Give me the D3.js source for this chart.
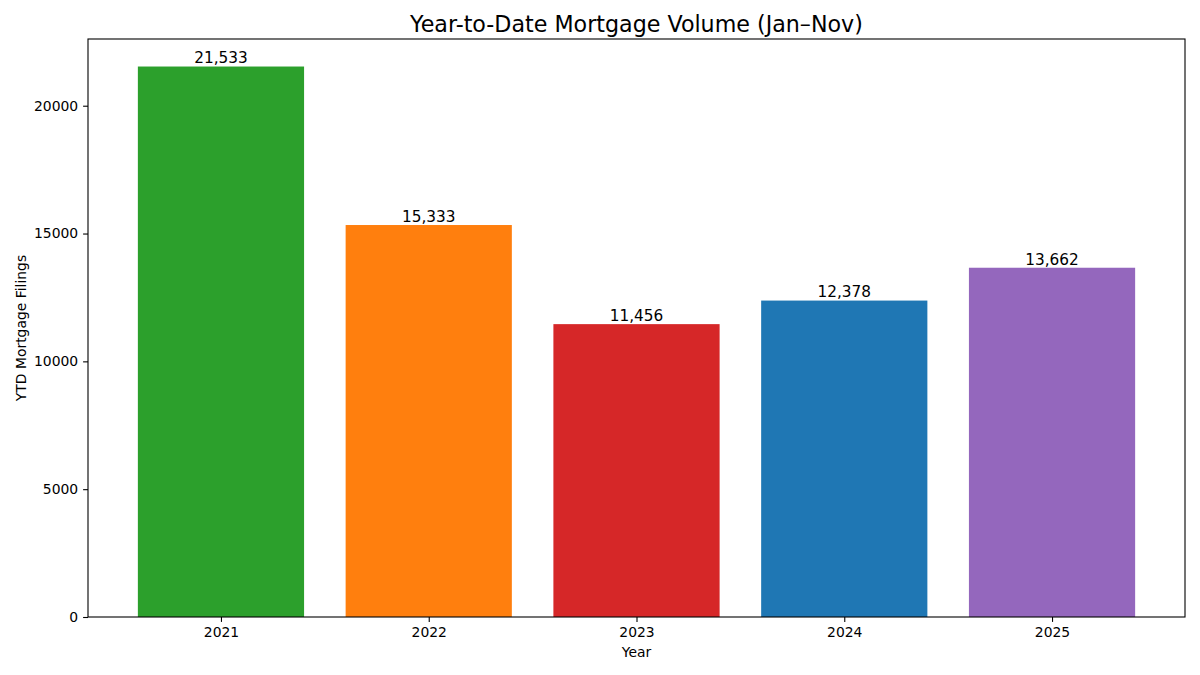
<!DOCTYPE html>
<html><head><meta charset="utf-8">
<script src="https://cdn.jsdelivr.net/npm/d3@7"></script>
<style>body{margin:0;background:#fff}svg{display:block;font-family:"DejaVu Sans",sans-serif}</style>
</head><body><svg id="c" width="1200" height="675"></svg>
<script>
const years = ["2021","2022","2023","2024","2025"];
const values = [21533, 15333, 11456, 12378, 13662];
const colors = ["#2ca02c","#ff7f0e","#d62728","#1f77b4","#9467bd"];
const yTicks = [0,5000,10000,15000,20000];

const svg = d3.select("#c");
const L=88, R=1185, T=39, B=617;
const x = d3.scaleLinear().domain([-0.64, years.length-1+0.64]).range([L,R]);
const y = d3.scaleLinear().domain([0, d3.max(values)*1.05]).range([B,T]);
const bw = x(0.8)-x(0);

svg.append("g").selectAll("rect").data(values).join("rect")
  .attr("x",(d,i)=>x(i)-bw/2).attr("width",bw)
  .attr("y",d=>y(d)).attr("height",d=>B-y(d))
  .attr("fill",(d,i)=>colors[i]);

svg.append("g").selectAll("text").data(values).join("text")
  .attr("x",(d,i)=>x(i)).attr("y",d=>y(d)-3.2)
  .attr("text-anchor","middle").attr("font-size","15.3px").attr("fill","#000")
  .text(d=>d3.format(",")(d));

const xa = d3.axisBottom(x).tickValues(d3.range(years.length)).tickFormat(i=>years[i]).tickSize(4.9).tickPadding(4.9);
const gx = svg.append("g").attr("transform",`translate(0,${B})`).call(xa);
const ya = d3.axisLeft(y).tickValues(yTicks).tickFormat(d3.format("d")).tickSize(4.9).tickPadding(4.9);
const gy = svg.append("g").attr("transform",`translate(${L},0)`).call(ya);
[gx,gy].forEach(g=>{
  g.select(".domain").remove();
  g.selectAll("text").attr("font-size","13.9px").attr("font-family","DejaVu Sans").attr("fill","#000");
  g.selectAll("line").attr("stroke","#000").attr("stroke-width",1.1);
});
svg.append("rect").attr("x",L).attr("y",T).attr("width",R-L).attr("height",B-T)
  .attr("fill","none").attr("stroke","#000").attr("stroke-width",1.1);

svg.append("text").attr("x",(L+R)/2).attr("y",32).attr("text-anchor","middle")
  .attr("font-size","22.2px").text("Year-to-Date Mortgage Volume (Jan–Nov)");
svg.append("text").attr("x",(L+R)/2).attr("y",657).attr("text-anchor","middle")
  .attr("font-size","13.9px").text("Year");
svg.append("text").attr("transform",`translate(26,${(T+B)/2}) rotate(-90)`).attr("text-anchor","middle")
  .attr("font-size","13.9px").text("YTD Mortgage Filings");
</script></body></html>
